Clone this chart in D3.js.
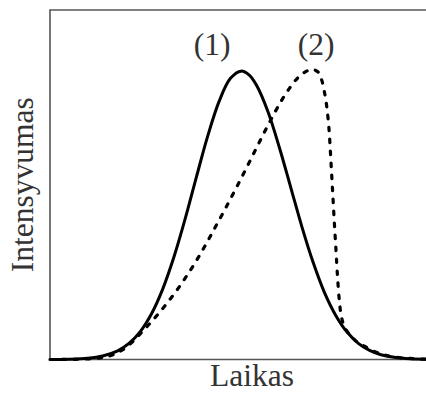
<!DOCTYPE html>
<html>
<head>
<meta charset="utf-8">
<script src="https://cdn.jsdelivr.net/npm/d3@7"></script>
<style>
  html, body { margin: 0; padding: 0; background: #fff; }
  svg { display: block; }
  text { font-family: "Liberation Serif", "DejaVu Serif", serif; fill: #333; }
</style>
</head>
<body>
<svg id="chart" width="426" height="394"></svg>
<script>
// Elution profiles: time (arbitrary units, 0–100) vs. normalised intensity
const timeSolid = [0, 5, 10, 14, 18, 21, 24, 27, 30, 33, 36, 39, 42, 45, 48, 50.8,
  53, 55, 58, 61, 64, 67, 70, 73, 76, 79, 82, 85, 88, 92, 96, 100];
const intensitySolid = [0.0002, 0.0011, 0.0045, 0.0123, 0.0302, 0.0557, 0.0968, 0.1587, 0.2451,
  0.357, 0.490, 0.636, 0.777, 0.896, 0.975, 1.000,
  0.986, 0.949, 0.858, 0.735, 0.598, 0.460, 0.336, 0.232, 0.153, 0.0952, 0.0561, 0.0314,
  0.0167, 0.0066, 0.0024, 0.0008];

const timeDashed = [0, 5, 10, 14, 16, 18, 20, 22, 24, 26, 28, 30, 32, 34, 36, 38, 40, 42, 44,
  46, 48, 50, 52, 54, 56, 58, 60, 62, 64, 66, 68, 69.7, 71.28, 72.26, 72.95, 73.59, 74.20,
  74.55, 74.92, 75.29, 75.66, 76.06, 76.44, 76.94, 77.47, 78.46, 80.24, 81.57, 83.51, 86.44,
  89.89, 93.09, 96.54, 100];
const intensityDashed = [0, 0.0005, 0.002, 0.007, 0.013, 0.024, 0.040, 0.062, 0.089, 0.117,
  0.146, 0.177, 0.210, 0.245, 0.283, 0.323, 0.366, 0.412, 0.460, 0.508, 0.557, 0.607, 0.658,
  0.710, 0.762, 0.813, 0.862, 0.907, 0.946, 0.978, 0.998, 1.006, 0.997, 0.969, 0.930, 0.878,
  0.800, 0.726, 0.640, 0.553, 0.466, 0.380, 0.293, 0.206, 0.151, 0.109, 0.079, 0.062, 0.047,
  0.027, 0.013, 0.006, 0.003, 0.001];

const seriesLabels = ["(1)", "(2)"];
const xTitle = "Laikas";
const yTitle = "Intensyvumas";

const svg = d3.select("#chart");
const plotLeft = 50, plotTop = 10, plotRight = 426, plotBottom = 359.5;

const x = d3.scaleLinear().domain([0, 100]).range([plotLeft, plotRight]);
const y = d3.scaleLinear().domain([0, 1.212]).range([plotBottom, plotTop]);

const line = d3.line()
  .x(d => x(d[0]))
  .y(d => y(d[1]))
  .curve(d3.curveCatmullRom.alpha(0.5));

const solid = d3.zip(timeSolid, intensitySolid);
const dashed = d3.zip(timeDashed, intensityDashed);

// frame: left and top edges plus the time axis
svg.append("path")
  .attr("d", `M${plotRight + 2},${plotTop}H${plotLeft}V${plotBottom}H${plotRight + 2}`)
  .attr("fill", "none")
  .attr("stroke", "#555")
  .attr("stroke-width", 1.6);

svg.append("path")
  .datum(dashed)
  .attr("d", line)
  .attr("fill", "none")
  .attr("stroke", "#000")
  .attr("stroke-width", 3.2)
  .attr("stroke-linecap", "round")
  .attr("stroke-dasharray", "3.5,8.5");

svg.append("path")
  .datum(solid)
  .attr("d", line)
  .attr("fill", "none")
  .attr("stroke", "#000")
  .attr("stroke-width", 3);

// peak labels
const peaks = [solid, dashed].map(s => s.reduce((a, b) => (b[1] > a[1] ? b : a)));
svg.selectAll("text.peak")
  .data(seriesLabels)
  .join("text")
  .attr("class", "peak")
  .attr("x", (d, i) => x(peaks[i][0]) + (i === 0 ? -29 : 4))
  .attr("y", 55)
  .attr("text-anchor", "middle")
  .attr("font-size", 31.5)
  .text(d => d);

svg.append("text")
  .attr("x", 252)
  .attr("y", 386)
  .attr("text-anchor", "middle")
  .attr("font-size", 31.5)
  .text(xTitle);

svg.append("text")
  .attr("transform", `translate(33,${(plotTop + plotBottom) / 2}) rotate(-90)`)
  .attr("text-anchor", "middle")
  .attr("font-size", 31.5)
  .text(yTitle);
</script>
</body>
</html>
